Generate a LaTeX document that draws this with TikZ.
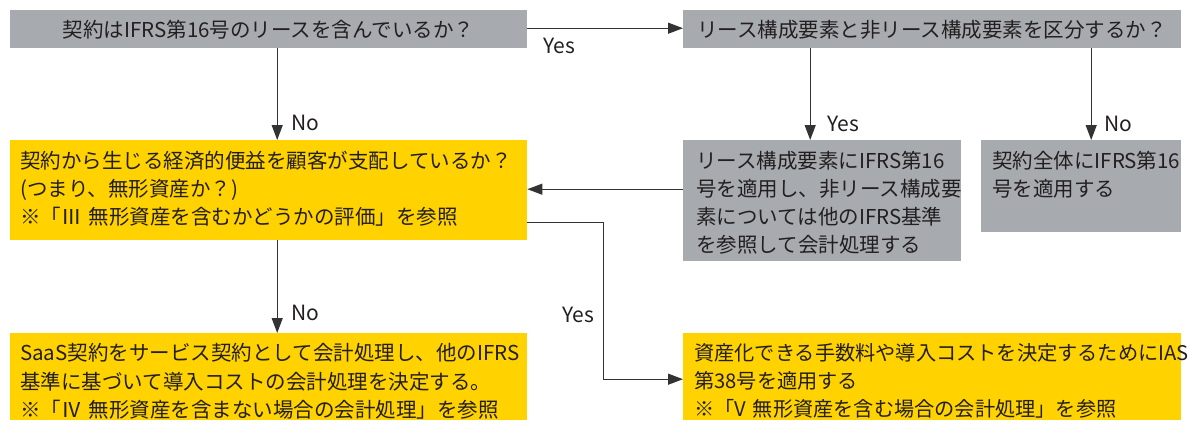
\documentclass[tikz,border=0pt]{standalone}
\usepackage{fontspec}
\setmainfont{Noto Sans CJK JP}
\usetikzlibrary{arrows.meta}
\definecolor{boxgray}{HTML}{A7ABB0}
\definecolor{boxyellow}{HTML}{FFD200}
\definecolor{ink}{HTML}{231F20}
\definecolor{linec}{HTML}{333333}
\begin{document}
\begin{tikzpicture}[x=1pt,y=-1pt,
  font=\fontsize{20.5}{28.3}\selectfont,
  every node/.style={text=ink},
  boxbase/.style={draw=none, anchor=north west, inner ysep=0pt, align=left},
  gbox/.style={boxbase, fill=boxgray},
  ybox/.style={boxbase, fill=boxyellow},
  arr/.style={draw=linec, line width=1.2pt, -{Triangle[length=15pt,width=11pt]}},
  lbl/.style={inner sep=0pt, font=\fontsize{21}{25}\selectfont}
]
\useasboundingbox (0,0) rectangle (1189,421);
% boxes
\node[gbox, align=center, inner xsep=0pt, text width=517pt, text height=26.8pt, text depth=11.2pt] (A) at (10,10)
  {契約はIFRS第16号のリースを含んでいるか？};
\node[gbox, align=center, inner xsep=0pt, text width=498pt, text height=26.8pt, text depth=11.2pt] (B) at (683,10)
  {リース構成要素と非リース構成要素を区分するか？};
\node[ybox, inner xsep=10pt, text width=497pt, text height=27.8pt, text depth=72.2pt] (C) at (10,140)
  {契約から生じる経済的便益を顧客が支配しているか？\\(つまり、無形資産か？)\\※「Ⅲ 無形資産を含むかどうかの評価」を参照};
\node[gbox, inner xsep=13pt, text width=252pt, text height=27.8pt, text depth=93.2pt] (D) at (683,140)
  {リース構成要素にIFRS第16\\号を適用し、非リース構成要\\素については他のIFRS基準\\を参照して会計処理する};
\node[gbox, inner xsep=11pt, text width=178pt, text height=27.8pt, text depth=64.2pt] (E) at (981,140)
  {契約全体にIFRS第16\\号を適用する};
\node[ybox, inner xsep=10pt, text width=497pt, text height=27.5pt, text depth=59.5pt] (F) at (10,333)
  {SaaS契約をサービス契約として会計処理し、他のIFRS\\基準に基づいて導入コストの会計処理を決定する。\\※「Ⅳ 無形資産を含まない場合の会計処理」を参照};
\node[ybox, inner xsep=11pt, text width=476pt, text height=27pt, text depth=60pt,
  font=\fontsize{20.2}{28}\selectfont] (G) at (683,333)
  {資産化できる手数料や導入コストを決定するためにIAS\\第38号を適用する\\※「V 無形資産を含む場合の会計処理」を参照};
% connectors
\draw[arr] ([yshift=1pt]A.east) -- ([yshift=1pt]B.west);
\draw[arr] ([xshift=8.5pt]A.south) -- ([xshift=8.5pt]C.north);
\draw[arr] ([xshift=-122pt]B.south) -- ([xshift=-122pt]B.south |- D.north);
\draw[arr] ([xshift=159pt]B.south) -- ([xshift=159pt]B.south |- E.north);
\draw[arr] ([yshift=1pt]D.west |- C.east) -- ([yshift=1pt]C.east);
\draw[arr] ([yshift=-32pt]C.east) -- ++(76,0) |- ([yshift=-2.5pt]G.west);
\draw[arr] ([xshift=8.5pt]C.south) -- ([xshift=8.5pt]C.south |- F.north);
% labels
\node[lbl] (l1) at (559,46) {Yes};
\node[lbl] (l2) at (305,123) {No};
\node[lbl] (l3) at (843,124) {Yes};
\node[lbl] (l4) at (1118,124) {No};
\node[lbl] (l5) at (305,313) {No};
\node[lbl] (l6) at (578,315) {Yes};
\end{tikzpicture}
\end{document}
